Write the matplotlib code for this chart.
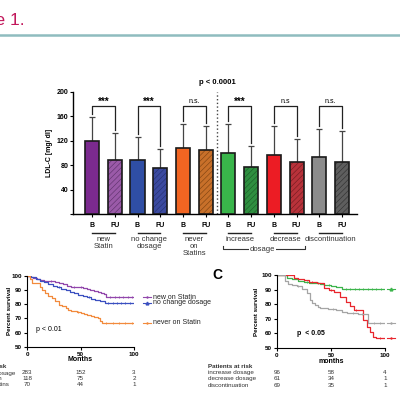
import numpy as np
import matplotlib.pyplot as plt
from matplotlib.lines import Line2D

plt.rcParams['font.family'] = ['Liberation Sans', 'DejaVu Sans']
plt.rcParams['hatch.linewidth'] = 0.4

# -----------------------------
# Data: LDL-C bars
# -----------------------------
bar_labels = ['B', 'FU'] * 6
groups = ['new\nStatin', 'no change\ndosage', 'never\non\nStatins',
          'increase', 'decrease', 'discontinuation']
ldl_mean = [120, 88.5, 88, 75, 109, 105, 100, 77.5, 96.7, 84.7, 93.4, 85]
ldl_sd = [39.5, 43.5, 38, 31, 38, 39, 47.5, 34.5, 48.3, 38.8, 45.6, 51]
signif = ['***', '***', 'n.s.', '***', 'n.s', 'n.s.']

# -----------------------------
# Data: Kaplan-Meier, panel B
# -----------------------------
new_t = [0, 3, 6, 9, 12, 16, 20, 26, 30, 34, 37, 41, 47, 52, 56, 59, 63, 66, 69, 72, 74, 100]
new_s = [100, 99.3, 98.6, 97.9, 97.2, 96.5, 96, 95.5, 95, 94, 92.7, 92.3, 92, 91.5,
         90.8, 90, 89, 88.3, 87.6, 87, 85, 85]
new_cens = [22, 44, 50, 78, 82, 86, 90, 94, 98]
nochg_t = [0, 4, 8, 12, 16, 20, 24, 28, 32, 36, 40, 44, 48, 52, 56, 60, 64, 68, 73, 100]
nochg_s = [100, 98.8, 97.5, 96.5, 95.4, 94.2, 93, 92, 91, 89.8, 88.8, 87.8, 86.8,
           85.8, 85, 84, 83, 82.2, 81, 81]
nochg_cens = [30, 58, 76, 80, 84, 88, 92, 96]
never_t = [0, 3, 5, 12, 14, 17, 20, 23, 26, 30, 33, 36, 38, 41, 44, 47, 50, 53, 56,
           60, 63, 66, 68, 70, 100]
never_s = [100, 98, 94.7, 92.3, 90, 87.6, 86, 84.1, 82, 79.5, 78.5, 77, 76, 75.5,
           75, 74.8, 73.5, 73, 72.4, 71.5, 71, 70, 68.5, 67, 67]
never_cens = [48, 74, 80, 86, 92, 98]
risk_b_rows = ['no change dosage', 'new on Statin', 'never on Statins']
risk_b = [[283, 152, 3], [118, 75, 2], [70, 44, 1]]

# -----------------------------
# Data: Kaplan-Meier, panel C
# -----------------------------
inc_t = [0, 9.5, 14, 20, 25, 30, 35, 40, 44, 50, 55, 60, 99]
inc_s = [100, 97.7, 97, 96.2, 95.4, 94.8, 94.2, 93.6, 93.2, 92.6, 92, 90.2, 90.2]
inc_cens = [28, 38, 48, 64, 68, 72, 76, 80, 84, 88, 92, 96]
dec_t = [0, 16, 20, 25, 30, 37, 44, 48, 53, 58, 64, 68, 71, 76, 80, 83, 86, 89, 92, 99]
dec_s = [100, 98, 97.5, 96.6, 95.5, 94.3, 90.9, 89.8, 88.6, 85, 81.7, 79, 76, 76,
         69, 64.6, 61, 57.7, 56.6, 56.6]
dec_cens = [33, 50, 73, 95]
disc_t = [0, 7.7, 10.7, 14, 18.4, 23, 27.7, 30.8, 33, 35.4, 38, 40, 47, 55, 60,
          64.6, 75, 84.6, 99]
disc_s = [100, 96, 93.6, 93, 92.5, 90.2, 88, 82.9, 81, 79.5, 78, 77.2, 76.5, 76, 75,
          73.8, 73.5, 67.3, 67.3]
disc_cens = [20, 52, 70, 79, 90, 95]
risk_c_rows = ['increase dosage', 'decrease dosage', 'discontinuation']
risk_c = [[96, 58, 4], [61, 34, 1], [69, 35, 1]]
risk_times = [0, 50, 100]


def fx(px):
    return px / 400


def fy(py):
    return 1 - py / 400


def step_value(t, s, x):
    # survival value of a step curve at time x
    k = np.searchsorted(t, x, side='right') - 1
    return s[k]


fig = plt.figure(figsize=(4, 4), dpi=100)

# header (cropped at the left edge, as in the source page)
fig.text(fx(25), fy(20), 'Figure 1.', color='#c2185b', fontsize=12.5,
         ha='right', va='center')
fig.add_artist(Line2D([0, 1], [fy(35), fy(35)], transform=fig.transFigure,
                      color='#8fbcbf', lw=1.8))

# -----------------------------
# Bar chart
# -----------------------------
ax = fig.add_axes([fx(73), fy(214), (357 - 73) / 400, (214 - 92) / 400])
pos = np.arange(12)
face = ['#7b2a8f', '#9a5aa8', '#2f4ea5', '#3b4aa0', '#f26522', '#c8702a',
        '#39b54a', '#2f8f40', '#ec1c24', '#b8323a', '#8c8c8c', '#5e5e5e']
hatchc = ['', '#5a2f68', '', '#23306e', '', '#7a4010',
          '', '#1c5a28', '', '#6e1a1f', '', '#2e2e2e']
for i in range(12):
    if i % 2 == 1:
        ax.bar(pos[i], ldl_mean[i], width=0.62, color=face[i], edgecolor=hatchc[i],
               hatch='//////', linewidth=0, zorder=2)
        ax.bar(pos[i], ldl_mean[i], width=0.62, fill=False, edgecolor='#1a1a1a',
               linewidth=1.2, zorder=3)
    else:
        ax.bar(pos[i], ldl_mean[i], width=0.62, color=face[i], edgecolor='#1a1a1a',
               linewidth=1.2, zorder=3)
ax.errorbar(pos, ldl_mean, yerr=[np.zeros(12), ldl_sd], fmt='none', ecolor='#444',
            elinewidth=0.9, capsize=2.5, capthick=0.9, zorder=1)

ax.set_xlim(-0.84, 11.66)
ax.set_ylim(0, 200)
ax.set_yticks([0, 40, 80, 120, 160, 200])
ax.set_yticklabels(['', '40', '80', '120', '160', '200'])
ax.set_xticks(pos)
ax.set_xticklabels(bar_labels, fontweight='bold')
ax.tick_params(axis='both', labelsize=5, length=2, width=0.8, pad=1.5)
ax.tick_params(axis='x', pad=4)
for lab in ax.get_yticklabels():
    lab.set_fontweight('bold')
for s in ['top', 'right']:
    ax.spines[s].set_visible(False)
for s in ['left', 'bottom']:
    ax.spines[s].set_linewidth(1)
ax.set_ylabel('LDL-C [mg/ dl]', fontsize=5, fontweight='bold')
ax.yaxis.set_label_coords(-0.07, 0.5)

# significance brackets
for g in range(6):
    i, j = 2 * g, 2 * g + 1
    yb = 177
    ax.plot([i, i, j, j], [ldl_mean[i] + ldl_sd[i] + 5, yb, yb, ldl_mean[j] + ldl_sd[j] + 5],
            color='#222', lw=0.9, clip_on=False)
    if signif[g] == '***':
        ax.text((i + j) / 2, yb - 1, signif[g], ha='center', va='bottom', fontsize=7,
                fontweight='bold')
    else:
        ax.text((i + j) / 2, yb + 2, signif[g], ha='center', va='bottom', fontsize=5)

ax.plot([5.5, 5.5], [0, 200], color='#444', ls=':', lw=1, clip_on=False)
ax.text(5.5, 215, 'p < 0.0001', ha='center', va='center', fontsize=5.5,
        fontweight='bold')

# group labels under the pairs
for g in range(6):
    i, j = 2 * g, 2 * g + 1
    ax.plot([i, j], [-31, -31], color='#222', lw=1, clip_on=False)
    ax.text((i + j) / 2, -36, groups[g], ha='center', va='top', fontsize=5.5,
            color='#333', linespacing=1.05)
ax.plot([5.75, 5.75, 9.35, 9.35], [-53, -57.5, -57.5, -53], color='#333', lw=0.8,
        clip_on=False)
ax.text(7.5, -57.5, 'dosage', ha='center', va='center', fontsize=5.5, color='#333',
        bbox=dict(facecolor='white', edgecolor='none', pad=0.5))


# -----------------------------
# Kaplan-Meier panels
# -----------------------------
def km_axes(rect, ylabel, xlabel):
    a = fig.add_axes(rect)
    a.set_xlim(0, 100)
    a.set_ylim(50, 100)
    a.set_xticks([0, 50, 100])
    a.set_yticks([50, 60, 70, 80, 90, 100])
    a.tick_params(labelsize=4.5, length=2, width=0.8, pad=1.5)
    for lab in a.get_xticklabels() + a.get_yticklabels():
        lab.set_fontweight('bold')
    for s in ['top', 'right']:
        a.spines[s].set_visible(False)
    a.set_ylabel(ylabel, fontsize=4.5, fontweight='bold')
    a.text(0.5, -0.18, xlabel, transform=a.transAxes, ha='center', va='center',
           fontsize=5, fontweight='bold')
    return a


def km_curve(a, t, s, cens, c):
    a.step(t, s, where='post', color=c, lw=0.9)
    a.plot(cens, [step_value(t, s, x) for x in cens], ls='none', marker='|',
           color=c, ms=2, mew=0.6)


axb = km_axes([fx(27), fy(347), 107 / 400, 71.3 / 400], 'Percent survival', 'Months')
axb.yaxis.set_label_coords(-0.14, 0.5)
b_series = [(new_t, new_s, new_cens, '#9146ab', 'new on Statin', '+'),
            (nochg_t, nochg_s, nochg_cens, '#3a4fc0', 'no change dosage', '^'),
            (never_t, never_s, never_cens, '#f28a3c', 'never on Statin', '+')]
for t, s, cens, c, lab, m in b_series:
    km_curve(axb, t, s, cens, c)
    axb.plot([108, 116], [s[-1], s[-1]], color=c, lw=0.8, clip_on=False)
    axb.plot([112], [s[-1]], marker=m, color=c, ms=2, clip_on=False)
    axb.text(118, s[-1], lab, fontsize=5, va='center', color='#222', clip_on=False)
axb.text(8.5, 62, 'p < 0.01', fontsize=5, va='center')

# risk table of panel B (row labels run off the left edge, as in the source)
for r, row in enumerate(risk_b_rows):
    yy = fy(373 + 6 * r)
    fig.text(fx(-36), yy, row, fontsize=4.5, va='center', color='#333')
    for k, tm in enumerate(risk_times):
        fig.text(fx(27 + tm * 1.07), yy, str(risk_b[r][k]), fontsize=4.5,
                 ha='center', va='center', color='#333')
fig.text(fx(-38), fy(366), 'Patients at risk', fontsize=4.5, va='center',
         fontweight='bold', color='#333')

axc = km_axes([fx(276.7), fy(348), 108.3 / 400, 73 / 400], 'Percent survival', 'months')
axc.yaxis.set_label_coords(-0.163, 0.5)
c_series = [(inc_t, inc_s, inc_cens, '#3cb44b', '^'),
            (dec_t, dec_s, dec_cens, '#e8262d', '+'),
            (disc_t, disc_s, disc_cens, '#a5a5a5', '+')]
for t, s, cens, c, m in c_series:
    km_curve(axc, t, s, cens, c)
    # legend keys at the curve ends; their labels fall outside the crop
    axc.plot([102, 109], [s[-1], s[-1]], color=c, lw=0.8, clip_on=False)
    axc.plot([105.5], [s[-1]], marker=m, color=c, ms=2, clip_on=False)
axc.text(18.5, 60, 'p  < 0.05', fontsize=5, va='center', fontweight='bold')
fig.text(fx(217), fy(275), 'C', fontsize=10, fontweight='bold', ha='center',
         va='center')

fig.text(fx(208), fy(366), 'Patients at risk', fontsize=4.5, va='center',
         fontweight='bold', color='#333')
for r, row in enumerate(risk_c_rows):
    yy = fy(372.7 + 6.2 * r)
    fig.text(fx(208), yy, row, fontsize=4.5, va='center', color='#333')
    for k, tm in enumerate(risk_times):
        fig.text(fx(276.7 + tm * 1.083), yy, str(risk_c[r][k]), fontsize=4.5,
                 ha='center', va='center', color='#333')

fig.savefig('out.png', dpi=100)
